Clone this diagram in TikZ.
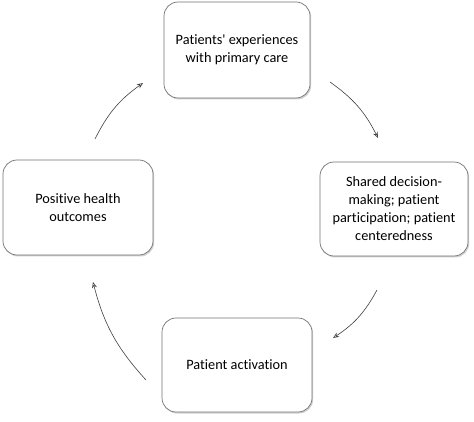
\documentclass[tikz,border=0pt]{standalone}
\usepackage{fontspec}
\newfontfamily\calib[Ligatures={NoCommon}]{Carlito}
\usetikzlibrary{shadows,arrows.meta}
\begin{document}
\begin{tikzpicture}[x=1pt,y=-1pt,
  box/.style={draw=black!55, line width=0.7pt, rounded corners=14pt, fill=white,
    align=center, font=\calib\fontsize{14.3}{18}\selectfont,
    drop shadow={shadow xshift=1.2pt, shadow yshift=-1.5pt, fill=black!30, opacity=0.6}},
  conn/.style={draw=black!75, line width=0.6pt, -{Stealth[open,length=6pt,width=5pt]}}]
\useasboundingbox (0,0) rectangle (474,422);
\node[box, minimum width=146pt, minimum height=96pt] (top) at (237,50) {Patients' experiences\\with primary care};
\node[box, minimum width=148pt, minimum height=94pt] (right) at (394,209) {Shared decision-\\making; patient\\participation; patient\\centeredness};
\node[box, minimum width=150pt, minimum height=95pt] (left) at (78,207.5) {Positive health\\outcomes};
\node[box, minimum width=150pt, minimum height=94pt] (bottom) at (237,365) {Patient activation};
\coordinate (a1s) at (95,139); \coordinate (a1e) at (143,83);
\coordinate (a2s) at (330,82); \coordinate (a2e) at (378,138);
\coordinate (a3s) at (377,290); \coordinate (a3e) at (333,338);
\coordinate (a4s) at (146,380); \coordinate (a4e) at (93,282);
\draw[conn] (a1s) to[bend left=14] (a1e);
\draw[conn] (a2s) to[bend left=14] (a2e);
\draw[conn] (a3s) to[bend left=14] (a3e);
\draw[conn] (a4s) to[bend left=14] (a4e);
\end{tikzpicture}
\end{document}
